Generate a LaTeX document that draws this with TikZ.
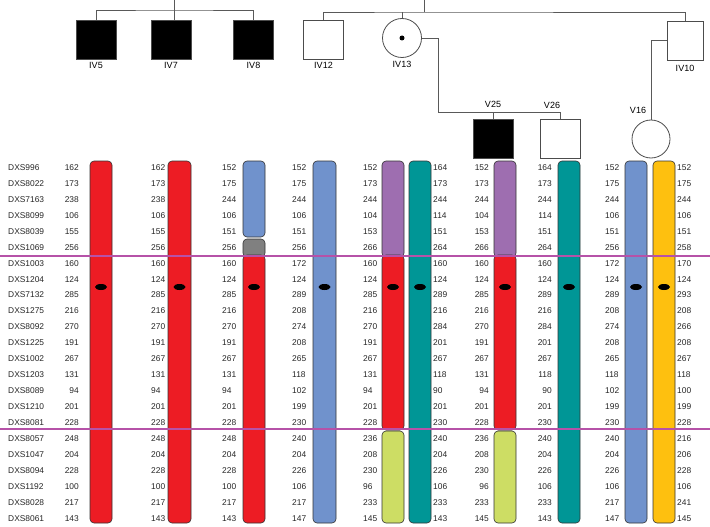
\documentclass[tikz,border=0pt]{standalone}
\usepackage{fontspec}
\setmainfont{Liberation Sans}
\usetikzlibrary{positioning,calc}

\definecolor{hapred}{RGB}{237,28,36}
\definecolor{hapblue}{RGB}{112,146,204}
\definecolor{hapteal}{RGB}{0,150,150}
\definecolor{happurple}{RGB}{158,110,176}
\definecolor{hapgreen}{RGB}{205,221,100}
\definecolor{hapgold}{RGB}{254,192,15}
\definecolor{hapgrey}{RGB}{128,128,128}
\definecolor{cutline}{RGB}{182,82,168}

\tikzset{
  male/.style={draw=black!70, line width=0.8pt, minimum width=40pt, minimum height=39pt, inner sep=0pt},
  female/.style={circle, draw=black!70, line width=0.8pt, minimum size=39pt, inner sep=0pt},
  kin/.style={draw=black!65, line width=0.8pt},
  tag/.style={font=\fontsize{9}{10}\selectfont, inner sep=0pt},
  allele/.style={font=\fontsize{8.4}{10}\selectfont, inner sep=0pt, text=black!85},
  seg/.style={draw=black!80, line width=0.6pt, rounded corners=4pt},
  cut/.style={draw=cutline, line width=1.8pt}
}

% one piece of a haplotype bar: x1, x2, y1, y2, colour
\newcommand{\hapseg}[5]{\draw[seg, fill=#5] (#1,#3) rectangle (#2,#4);}
% one column of alleles: anchor, x, name, values
\newcommand{\alleles}[4]{%
  \foreach \a [count=\r from 0] in {#4}
    \node[allele, anchor=#1] (#3-\r) at (#2,{167.5+15.95*\r}) {\a};}

\begin{document}
\begin{tikzpicture}[x=1pt, y=-1pt]
  \useasboundingbox (0,0) rectangle (710,527);

  % pedigree
  \node[male, fill=black] (IV5) at (96,39.5) {};
  \node[male, fill=black] (IV7) at (171,39.5) {};
  \node[male, fill=black] (IV8) at (253.5,39.5) {};
  \node[male] (IV12) at (323.5,39.5) {};
  \node[female] (IV13) at (402,38) {};
  \fill (IV13.center) circle (2.5pt);
  \node[male, minimum width=36pt] (IV10) at (685,40.5) {};
  \node[male, fill=black] (V25) at (493,138.5) {};
  \node[male] (V26) at (560.5,138.5) {};
  \node[female, minimum size=38pt] (V16) at (651,139) {};

  \node[tag, below=3pt of IV5] (lIV5) {IV5};
  \node[tag, below=3pt of IV7] (lIV7) {IV7};
  \node[tag, below=3pt of IV8] (lIV8) {IV8};
  \node[tag, below=3pt of IV12] (lIV12) {IV12};
  \node[tag, below=3pt of IV13] (lIV13) {IV13};
  \node[tag, below=5pt of IV10] (lIV10) {IV10};
  \node[tag, above=11pt of V25] (lV25) {V25};
  \node[tag] (lV26) at (552,105) {V26};
  \node[tag] (lV16) at (638,110) {V16};

  \coordinate (top1) at (174,0);
  \coordinate (sibA) at (174,10);
  \coordinate (top2) at (424,0);
  \coordinate (sibB) at (424,12);
  \coordinate (sibC) at (438,112);
  \draw[kin] (IV5.north) |- (sibA) -| (IV8.north);
  \draw[kin] (top1) -- (top1 |- IV7.north);
  \draw[kin] (IV12.north) |- (sibB) -| (IV10.north);
  \draw[kin] (top2) -- (sibB);
  \draw[kin] (IV13.north) -- (IV13.north |- sibB);
  \draw[kin] (IV13.east) -| (sibC) -| (V26.north);
  \draw[kin] (V25.north) -- (V25.north |- sibC);
  \draw[kin] (IV10.west) -| (V16.north);

  % haplotype bars
  \hapseg{90}{112}{161}{523}{hapred}
  \hapseg{168}{191}{161}{523}{hapred}
  \hapseg{243}{265}{161}{237}{hapblue}
  \hapseg{243}{265}{239}{257}{hapgrey}
  \hapseg{243}{265}{255}{523}{hapred}
  \hapseg{313}{336}{161}{523}{hapblue}
  \hapseg{382}{404}{161}{257}{happurple}
  \hapseg{382}{404}{255}{430}{hapred}
  \hapseg{382}{404}{431}{523}{hapgreen}
  \hapseg{409}{431}{161}{523}{hapteal}
  \hapseg{494}{516}{161}{257}{happurple}
  \hapseg{494}{516}{255}{430}{hapred}
  \hapseg{494}{516}{431}{523}{hapgreen}
  \hapseg{558}{580}{161}{523}{hapteal}
  \hapseg{625}{647}{161}{523}{hapblue}
  \hapseg{653}{675}{161}{523}{hapgold}

  % centromeres
  \foreach \cx in {101,179.5,254,324.5,393,420,505,569,636,664}
    \fill (\cx,287) ellipse [x radius=6pt, y radius=3pt];

  % markers and alleles
  \foreach \m [count=\r from 0] in {DXS996,DXS8022,DXS7163,DXS8099,DXS8039,DXS1069,
      DXS1003,DXS1204,DXS7132,DXS1275,DXS8092,DXS1225,DXS1002,DXS1203,DXS8089,
      DXS1210,DXS8081,DXS8057,DXS1047,DXS8094,DXS1192,DXS8028,DXS8061}
    \node[allele, anchor=west] (m-\r) at (8,{167.5+15.95*\r}) {\m};

  \alleles{east}{79}{IV5a}{162,173,238,106,155,256,160,124,285,216,270,191,267,131,94,201,228,248,204,228,100,217,143}
  \alleles{west}{151}{IV7a}{162,173,238,106,155,256,160,124,285,216,270,191,267,131,94,201,228,248,204,228,100,217,143}
  \alleles{west}{222}{IV8a}{152,175,244,106,151,256,160,124,285,216,270,191,267,131,94,201,228,248,204,228,100,217,143}
  \alleles{west}{292}{IV12a}{152,175,244,106,151,256,172,124,289,208,274,208,265,118,102,199,230,240,204,226,106,217,147}
  \alleles{west}{363}{IV13a}{152,173,244,104,153,266,160,124,285,216,270,191,267,131,94,201,228,236,208,230,96,233,145}
  \alleles{west}{433}{IV13b}{164,173,244,114,151,264,160,124,289,216,284,201,267,118,90,201,230,240,204,226,106,233,143}
  \alleles{east}{489}{V25a}{152,173,244,104,153,266,160,124,285,216,270,191,267,131,94,201,228,236,208,230,96,233,145}
  \alleles{east}{552}{V26a}{164,173,244,114,151,264,160,124,289,216,284,201,267,118,90,201,230,240,204,226,106,233,143}
  \alleles{west}{605}{V16a}{152,175,244,106,151,256,172,124,289,208,274,208,265,118,102,199,230,240,204,226,106,217,147}
  \alleles{west}{677}{V16b}{152,175,244,106,151,258,170,124,293,208,266,208,267,118,100,199,228,216,206,228,106,241,145}

  % recombination limits
  \coordinate (cutA) at (0,256);
  \coordinate (cutB) at (0,429);
  \draw[cut] (cutA) -- (cutA -| 710,0);
  \draw[cut] (cutB) -- (cutB -| 710,0);
\end{tikzpicture}
\end{document}
